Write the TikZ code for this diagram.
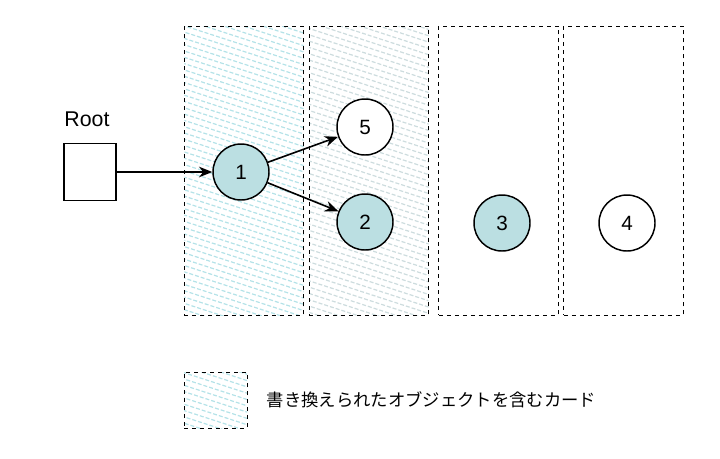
\documentclass[tikz,border=0pt]{standalone}
\usepackage{fontspec}
\setmainfont{Liberation Sans}
\newfontfamily\jpfont{Noto Sans CJK JP}
\usetikzlibrary{arrows.meta,patterns.meta}
\definecolor{objfill}{HTML}{BBDFE2}
\definecolor{hatchblue}{HTML}{B4E2E8}
\definecolor{hatchgray}{HTML}{CDDCDE}

\begin{document}
\begin{tikzpicture}[x=0.75pt,y=-0.75pt,
		card/.style={draw,dashed,line width=0.6pt,minimum width=89.5pt,minimum height=216.75pt,inner sep=0pt},
		dirty/.style={pattern={Lines[angle=-18,distance=4.5pt,line width=0.9pt]},pattern color=#1},
		obj/.style={circle,draw,line width=1.1pt,minimum size=42pt,inner sep=0pt,font=\fontsize{15.5}{18}\selectfont},
		ref/.style={-{Stealth[length=10pt,width=8pt]},line width=1.2pt}]
	\useasboundingbox (0,0) rectangle (720,458);
	% cards
	\node[card,dirty=hatchblue] (card1) at (244,170.5) {};
	\node[card,dirty=hatchgray] (card2) at (369,170.5) {};
	\node[card] (card3) at (498.5,170.5) {};
	\node[card] (card4) at (623.5,170.5) {};
	% root
	\node[draw,line width=1.1pt,minimum width=39pt,minimum height=42.75pt,inner sep=0pt] (root) at (90,172) {};
	\node[font=\fontsize{16}{19}\selectfont] (rootlabel) at (87,119) {Root};
	% objects
	\node[obj,fill=objfill] (o1) at (241,172) {1};
	\node[obj,fill=white] (o5) at (365,127) {5};
	\node[obj,fill=objfill] (o2) at (365,222) {2};
	\node[obj,fill=objfill] (o3) at (502,223) {3};
	\node[obj,fill=white] (o4) at (627,223) {4};
	\draw[ref] (root) -- (o1);
	\draw[ref] (o1) -- (o5);
	\draw[ref] (o1) -- (o2);
	% legend
	\node[draw,dashed,line width=0.6pt,dirty=hatchblue,minimum width=47.25pt,minimum height=42pt,inner sep=0pt] (legendbox) at (215.5,400) {};
	\node[anchor=west,font=\jpfont\fontsize{13}{15}\selectfont] (legendtext) at (262,400) {書き換えられたオブジェクトを含むカード};
\end{tikzpicture}
\end{document}
